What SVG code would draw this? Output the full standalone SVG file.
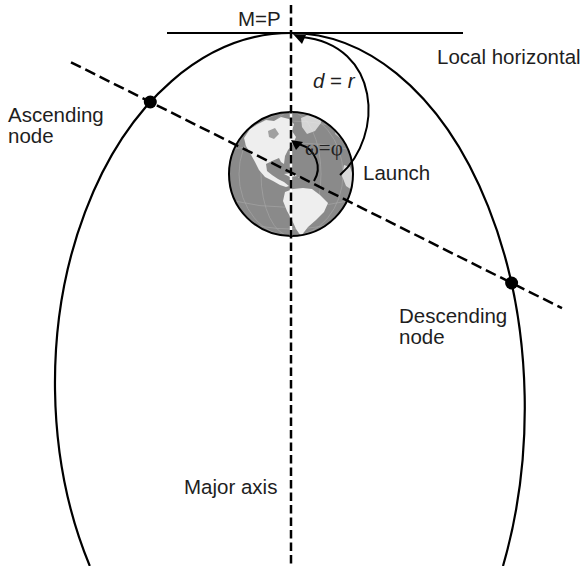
<svg xmlns="http://www.w3.org/2000/svg" width="587" height="566" viewBox="0 0 587 566">
  <style>
    .lbl { font-family: "Liberation Sans", Arial, sans-serif; font-size: 20.5px; fill: #1e1e1e; }
    .greek { font-family: "Liberation Serif", "Times New Roman", serif; font-size: 21px; fill: #222; }
    .orbit { fill: none; stroke: #000; stroke-width: 2.2; }
    .solid { fill: none; stroke: #000; stroke-width: 2; }
    .dash-v { fill: none; stroke: #000; stroke-width: 2.5; stroke-dasharray: 8.5 4; }
    .dash-s { fill: none; stroke: #000; stroke-width: 2.5; stroke-dasharray: 11 5; }
    .land { fill: #eeeeee; }
    .grid { fill: none; stroke: #a9a9a9; stroke-width: 0.6; }
    .node { fill: #000; }
  </style>
  <defs>
    <clipPath id="globeClip">
      <circle cx="291" cy="174" r="62"/>
    </clipPath>
  </defs>

  <rect width="587" height="566" fill="#fff"/>

  <!-- orbit (two half-ellipses meeting at the apex) -->
  <g id="orbit">
    <path class="orbit" d="M 89.8,566 A 236 350 0 0 1 291,33 A 234 375 0 0 1 503,566"/>
  </g>

  <!-- local horizontal -->
  <g id="local-horizontal">
    <line class="solid" x1="167" y1="33" x2="463" y2="33"/>
  </g>

  <!-- Earth -->
  <g id="earth">
    <circle cx="291" cy="174" r="62" fill="#8a8a8a"/>
    <g clip-path="url(#globeClip)">
      <!-- graticule -->
      <ellipse class="grid" cx="291" cy="174" rx="30" ry="62"/>
      <ellipse class="grid" cx="291" cy="174" rx="52" ry="62"/>
      <path class="grid" d="M 229,150 Q 291,135 353,150"/>
      <path class="grid" d="M 229,200 Q 291,215 353,200"/>
      <path class="grid" d="M 235,130 Q 291,112 347,130"/>
      <path class="grid" d="M 236,220 Q 291,238 346,220"/>
      <!-- North America -->
      <path class="land" d="M 244,138 L 250,129 L 258,124 L 266,120 L 274,121 L 281,117 L 289,119 L 294,124 L 292,131 L 296,137 L 293,144 L 288,150 L 285,156 L 284,164 L 281,162 L 279,158 L 272,161 L 266,164 L 267,171 L 272,175 L 278,179 L 284,182 L 289,186 L 286,187 L 280,185 L 273,181 L 265,177 L 259,170 L 255,162 L 250,153 L 246,146 Z"/>
      <!-- Hudson Bay and lakes -->
      <path fill="#a0a0a0" d="M 268,131 L 275,128 L 279,134 L 274,139 L 269,137 Z"/>
      <!-- Greenland -->
      <path class="land" fill-opacity="0.75" d="M 301,118 L 311,114 L 322,116 L 321,123 L 315,131 L 307,134 L 302,127 Z"/>
      <!-- Caribbean islands -->
      <path class="land" d="M 284,174 L 292,173 L 297,176 L 290,177 Z"/>
      <path class="land" d="M 298,177 L 303,177 L 301,179 Z"/>
      <!-- South America -->
      <path class="land" d="M 285,192 L 293,189 L 303,188 L 312,189 L 320,195 L 328,203 L 324,212 L 316,220 L 308,227 L 301,236 L 296,229 L 292,220 L 287,211 L 283,201 Z"/>
      <!-- Africa / Europe edge -->
      <path class="land" fill-opacity="0.8" d="M 344,165 L 350,167 L 354,178 L 352,190 L 346,186 L 342,176 Z"/>
      <path class="land" fill-opacity="0.6" d="M 336,128 L 342,132 L 340,138 L 335,134 Z"/>
    </g>
    <circle cx="291" cy="174" r="62" fill="none" stroke="#000" stroke-width="2"/>
  </g>

  <!-- axes and angle arcs -->
  <g id="connectors">
    <line x1="291" y1="112" x2="291" y2="236" stroke="#fff" stroke-width="2.4"/>
    <line class="dash-v" x1="291" y1="5" x2="291" y2="566"/>
    <line class="dash-s" x1="71" y1="62.3" x2="562" y2="308.2"/>
    <!-- d = r arc from launch to apex -->
    <path class="solid" d="M 340,175 C 385,135 380,45 302,37"/>
    <polygon points="293,34 306,35 302,44" fill="#000"/>
    <!-- omega = phi arc -->
    <path class="solid" d="M 314,181 A 24.5 24.5 0 0 0 300,144.5"/>
    <polygon points="291,140 303,142 296,150" fill="#000"/>
  </g>

  <!-- ascending / descending nodes -->
  <g id="ascending-node">
    <circle class="node" cx="150.3" cy="102" r="6.5"/>
    <text class="lbl" x="8" y="122">Ascending</text>
    <text class="lbl" x="8" y="143">node</text>
  </g>
  <g id="descending-node">
    <circle class="node" cx="511.6" cy="283" r="6.5"/>
    <text class="lbl" x="399" y="323">Descending</text>
    <text class="lbl" x="399" y="344">node</text>
  </g>

  <g id="labels">
    <text class="lbl" x="238" y="26">M=P</text>
    <text class="lbl" x="437" y="64">Local horizontal</text>
    <text class="lbl" x="313" y="88"><tspan font-style="italic">d</tspan> = <tspan font-style="italic">r</tspan></text>
    <text class="greek" x="305" y="155">ω=φ</text>
    <text class="lbl" x="363" y="180">Launch</text>
    <text class="lbl" x="184" y="494">Major axis</text>
  </g>
</svg>
